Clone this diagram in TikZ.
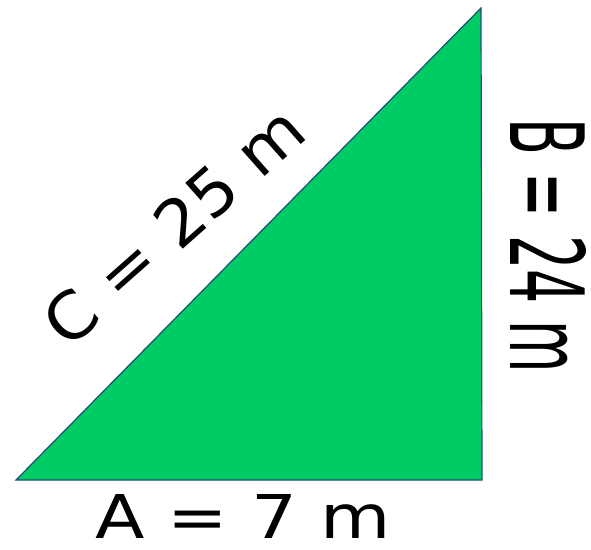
\documentclass[tikz,border=0pt]{standalone}
\usepackage{fontspec}
\setmainfont{DejaVu Sans}
\usepackage{graphicx}
\definecolor{trigreen}{HTML}{00CC66}
\definecolor{edgeblue}{HTML}{1F4E79}
\begin{document}
\begin{tikzpicture}[x=1pt,y=-1pt,
  lbl/.style={inner sep=0pt, text=black}]
\useasboundingbox[fill=white] (0,0) rectangle (591,549);
\coordinate (P) at (16,480);
\coordinate (Q) at (482,480);
\coordinate (R) at (481,8);
\draw[fill=trigreen, draw=edgeblue, line width=1.2pt, line join=miter] (P) -- (Q) -- (R) -- cycle;
\node[lbl] (a) at (243,516) {\resizebox{295pt}{44pt}{A = 7 m}};
\node[lbl, rotate=-90] (b) at (548,246) {\resizebox{254pt}{76pt}{B = 24 m}};
\node[lbl, rotate=41.5] (c) at (174,226) {\resizebox{322pt}{48pt}{C = 25 m}};
\end{tikzpicture}
\end{document}
